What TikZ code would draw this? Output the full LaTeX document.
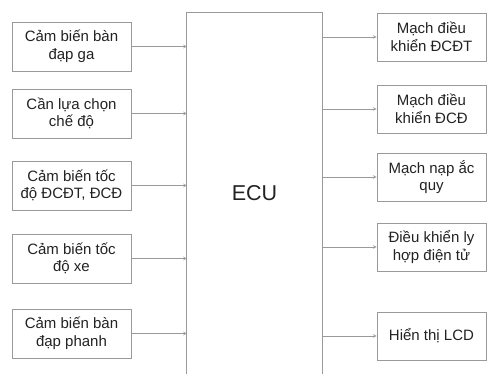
\documentclass[tikz,border=0pt]{standalone}
\usepackage{fontspec}
\setmainfont{Liberation Sans}
\definecolor{linegray}{HTML}{9A9A9A}
\definecolor{textgray}{HTML}{222222}

\begin{document}
\begin{tikzpicture}[x=1pt, y=-1pt, node distance = 72pt,
    inbox/.style={draw=linegray, line width=0.8pt, align=center, text=textgray,
      minimum width=119pt, minimum height=49pt, inner sep=0pt,
      font=\fontsize{15}{17.5}\selectfont},
    outbox/.style={inbox, minimum width=109pt, minimum height=48pt},
    conn/.style={->, >=stealth, draw=linegray, line width=0.6pt}]
  \useasboundingbox (0,0) rectangle (487,374);
      % inputs
      \node (in1) [inbox] at (71.5,46.5) {Cảm biến bàn\\đạp ga};
      \node (in2) [inbox, below of=in1, node distance=67pt] {Cần lựa chọn\\chế độ};
      \node (in3) [inbox, below of=in2] {Cảm biến tốc\\độ ĐCĐT, ĐCĐ};
      \node (in4) [inbox, below of=in3, node distance=73pt] {Cảm biến tốc\\độ xe};
      \node (in5) [inbox, below of=in4, node distance=75pt] {Cảm biến bàn\\đạp phanh};
      % ECU
      \node (ecu) [minimum width=135pt, minimum height=361pt, inner sep=0pt,
        text=textgray, font=\fontsize{21.5}{24}\selectfont] at (254.5,193.5) {ECU};
      % outputs
      \node (out1) [outbox] at (431.5,37) {Mạch điều\\khiển ĐCĐT};
      \node (out2) [outbox, below of=out1] {Mạch điều\\khiển ĐCĐ};
      \node (out3) [outbox, below of=out2, node distance=68pt] {Mạch nạp ắc\\quy};
      \node (out4) [outbox, below of=out3, node distance=70pt] {Điều khiển ly\\hợp điện tử};
      \node (out5) [outbox, below of=out4, node distance=89pt] {Hiển thị LCD};
    \draw [draw=linegray, line width=0.8pt] (ecu.south west) -- (ecu.north west) -- (ecu.north east) -- (ecu.south east);
    \foreach \i in {1,...,5} {
      \draw [conn] (in\i.east) -- (in\i.east -| ecu.west);
      \draw [conn] (ecu.east |- out\i.west) -- (out\i.west);
    }
      \end{tikzpicture}
\end{document}
